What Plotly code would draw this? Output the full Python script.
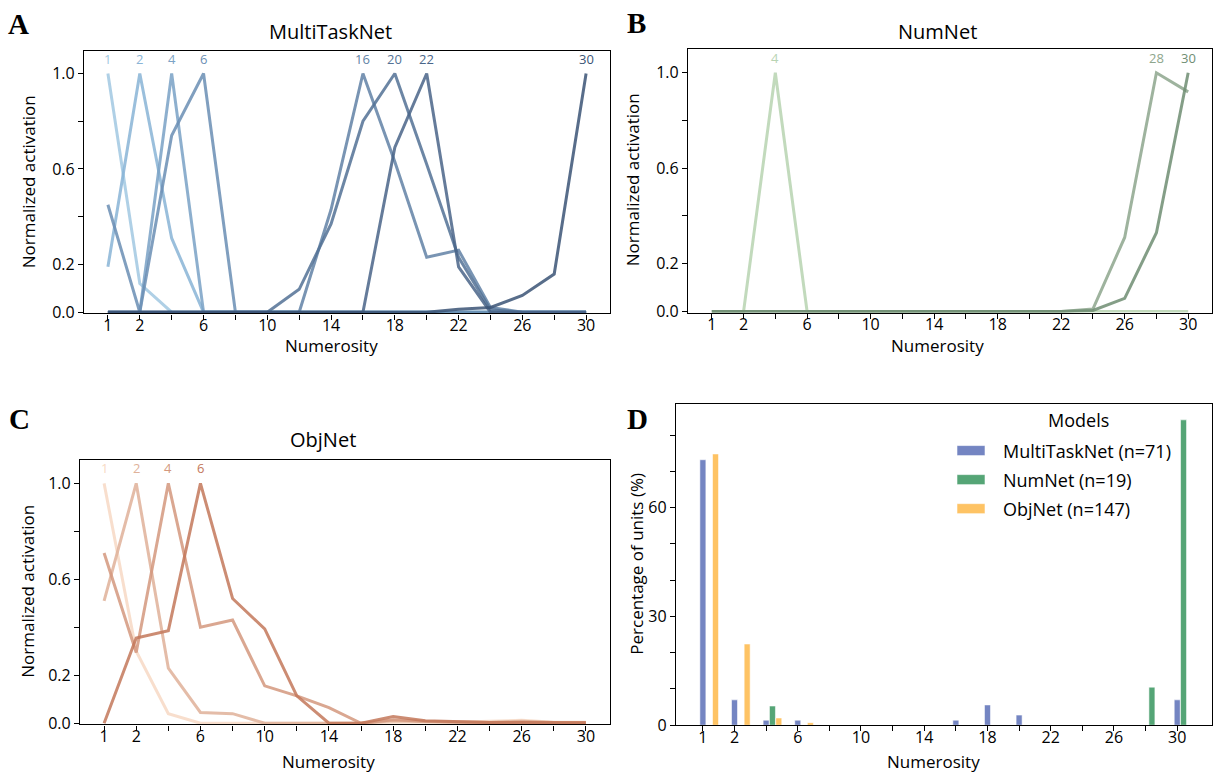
import plotly.graph_objects as go

W, H = 1214, 772
H_FIG = 784  # page height that is captured and scaled to the 772-px picture

# ---------------- data ----------------
numerosity = [1, 2, 4, 6, 8, 10, 12, 14, 16, 18, 20, 22, 24, 26, 28, 30]
labelled_ticks = [1, 2, 6, 10, 14, 18, 22, 26, 30]

# Panel A: MultiTaskNet tuning curves (normalized activation)
mt_pref = [1, 2, 4, 6, 16, 20, 22, 30]
mt_1 = [1.0, 0.12, 0, 0, 0, 0, 0, 0, 0, 0, 0, 0, 0, 0, 0, 0]
mt_2 = [0.19, 1.0, 0.31, 0, 0, 0, 0, 0, 0, 0, 0, 0, 0, 0, 0, 0]
mt_4 = [0, 0, 1.0, 0, 0, 0, 0, 0, 0, 0, 0, 0, 0, 0, 0, 0]
mt_6 = [0.45, 0, 0.74, 1.0, 0, 0, 0, 0, 0, 0, 0, 0, 0, 0, 0, 0]
mt_16 = [0, 0, 0, 0, 0, 0, 0, 0.43, 1.0, 0.63, 0.23, 0.26, 0.02, 0, 0, 0]
mt_20 = [0, 0, 0, 0, 0, 0, 0.096, 0.37, 0.80, 1.0, 0.62, 0.23, 0.01, 0, 0, 0]
mt_22 = [0, 0, 0, 0, 0, 0, 0, 0, 0, 0.69, 1.0, 0.19, 0, 0, 0, 0]
mt_30 = [0, 0, 0, 0, 0, 0, 0, 0, 0, 0, 0, 0.012, 0.02, 0.07, 0.16, 1.0]
mt_curves = [mt_1, mt_2, mt_4, mt_6, mt_16, mt_20, mt_22, mt_30]
mt_colors = ["#a3c9e2", "#8ab4d6", "#7ca3c6", "#6c8fb4", "#6283a6", "#557396",
             "#4a6689", "#3b5476"]

# Panel B: NumNet tuning curves
nn_pref = [4, 28, 30]
nn_4 = [0, 0, 1.0, 0, 0, 0, 0, 0, 0, 0, 0, 0, 0, 0, 0, 0]
nn_28 = [0, 0, 0, 0, 0, 0, 0, 0, 0, 0, 0, 0, 0.01, 0.31, 1.0, 0.92]
nn_30 = [0, 0, 0, 0, 0, 0, 0, 0, 0, 0, 0, 0, 0.004, 0.055, 0.33, 1.0]
nn_curves = [nn_4, nn_28, nn_30]
nn_colors = ["#b8d4b3", "#8ea68d", "#6f8e73"]

# Panel C: ObjNet tuning curves
on_pref = [1, 2, 4, 6]
on_1 = [1.0, 0.30, 0.04, 0.0, 0, 0, 0, 0, 0, 0.004, 0.004, 0.004, 0.008, 0.012, 0.004, 0.004]
on_2 = [0.51, 1.0, 0.23, 0.045, 0.04, 0.0, 0, 0, 0, 0.01, 0.005, 0.003, 0.003, 0.008, 0.003, 0.003]
on_4 = [0.71, 0.295, 1.0, 0.40, 0.43, 0.156, 0.114, 0.065, 0.0, 0.015, 0.008, 0.005, 0.003, 0.004, 0.002, 0.002]
on_6 = [0.0, 0.355, 0.386, 1.0, 0.52, 0.393, 0.114, 0.0, 0.0, 0.028, 0.01, 0.005, 0.003, 0.003, 0.002, 0.002]
on_curves = [on_1, on_2, on_4, on_6]
on_colors = ["#f7dac5", "#e0b29a", "#d4987e", "#c4785b"]

# Panel D: percentage of units per preferred numerosity
models = ["MultiTaskNet (n=71)", "NumNet (n=19)", "ObjNet (n=147)"]
pct_multitask = [73.2, 7.0, 1.4, 1.4, 0, 0, 0, 0, 1.4, 5.6, 2.8, 0, 0, 0, 0, 7.0]
pct_numnet = [0, 0, 5.3, 0, 0, 0, 0, 0, 0, 0, 0, 0, 0, 0, 10.5, 84.2]
pct_objnet = [74.8, 22.4, 2.0, 0.7, 0, 0, 0, 0, 0, 0, 0, 0, 0, 0, 0, 0]
bar_colors = ["#7485c2", "#55a576", "#fec364"]

cats = [str(n) for n in numerosity]
FONT = "Open Sans"


def px(x):
    return x / W


def py(y):
    return 1 - y / H


fig = go.Figure()

# ---------------- line panels ----------------
panels = [
    ("x", "y", mt_curves, mt_colors, mt_pref),
    ("x2", "y2", nn_curves, nn_colors, nn_pref),
    ("x3", "y3", on_curves, on_colors, on_pref),
]
for xa, ya, curves, colors, prefs in panels:
    for curve, col, pref in zip(curves, colors, prefs):
        fig.add_trace(go.Scatter(
            x=cats, y=curve, mode="lines", xaxis=xa, yaxis=ya,
            line=dict(color=col, width=3), opacity=0.85,
            showlegend=False, hoverinfo="skip"))
        peak = curve.index(max(curve))
        fig.add_annotation(
            x=peak, y=max(curve), xref=xa, yref=ya, text=str(pref),
            showarrow=False, yanchor="bottom", yshift=4,
            font=dict(family=FONT, size=13, color=col))

# ---------------- bar panel ----------------
bar_offsets = [-0.095, 0.105, 0.305]
for name, vals, col, off in zip(models, [pct_multitask, pct_numnet, pct_objnet],
                                bar_colors, bar_offsets):
    fig.add_trace(go.Bar(
        x=cats, y=vals, name=name, xaxis="x4", yaxis="y4",
        width=0.19, offset=off,
        marker=dict(color=col, line=dict(color="rgba(255,255,255,0.7)", width=0.8)),
        showlegend=False))

# ---------------- axes ----------------
tick_text = [str(n) if n in labelled_ticks else "" for n in numerosity]
common_x = dict(type="category", categoryorder="array", categoryarray=cats,
                tickmode="array", tickvals=cats, ticktext=tick_text,
                showline=True, mirror=True, linecolor="black", linewidth=1.3,
                ticks="outside", ticklen=5, tickwidth=1.2, tickcolor="black",
                showgrid=False, zeroline=False, ticklabelstandoff=-8,
                tickfont=dict(family=FONT, size=16, color="black"))
common_y = dict(tickmode="array", tickvals=[0, 0.2, 0.4, 0.6, 0.8, 1.0],
                ticktext=["0.0", "0.2", "", "0.6", "", "1.0"],
                showline=True, mirror=True, linecolor="black", linewidth=1.3,
                ticks="outside", ticklen=5, tickwidth=1.2, tickcolor="black",
                showgrid=False, zeroline=False,
                tickfont=dict(family=FONT, size=16, color="black"))

boxes = {
    # name: (left, right, top, bottom, xrange, yrange)
    "1": (84, 610, 51, 313, [-0.75, 15.75], [-0.005, 1.094]),
    "2": (688, 1212, 49, 312.2, [-0.75, 15.75], [-0.005, 1.0995]),
    "3": (80, 610, 459, 723.5, [-0.75, 15.75], [-0.005, 1.099]),
    "4": (676, 1212, 403, 724.3, [-0.85, 16.1], [0, 88.7]),
}
for k, (l, r, t, b, xr, yr) in boxes.items():
    xname = "xaxis" if k == "1" else "xaxis" + k
    yname = "yaxis" if k == "1" else "yaxis" + k
    anchor_x = "y" if k == "1" else "y" + k
    anchor_y = "x" if k == "1" else "x" + k
    xa = dict(common_x, domain=[px(l), px(r)], range=xr, anchor=anchor_x)
    ya = dict(common_y, domain=[py(b), py(t)], range=yr, anchor=anchor_y)
    if k == "4":
        ya.update(tickvals=[0, 10, 20, 30, 40, 50, 60, 70, 80],
                  ticktext=["0", "", "", "30", "", "", "60", "", ""])
    fig.update_layout({xname: xa, yname: ya})


# ---------------- text ----------------
def text(x, y, s, size=17, angle=0, weight="normal", family=FONT, xanchor="center"):
    fig.add_annotation(x=px(x), y=py(y), xref="paper", yref="paper", text=s,
                       showarrow=False, textangle=angle, xanchor=xanchor, yanchor="middle",
                       font=dict(family=family, size=size, color="black", weight=weight))


# panel titles
text(330, 31, "MultiTaskNet", size=20)
text(937, 31, "NumNet", size=20)
text(323, 439, "ObjNet", size=20)
# x axis titles
text(331, 345, "Numerosity")
text(937, 345, "Numerosity")
text(328, 761, "Numerosity")
text(933, 761, "Numerosity")
# y axis titles
text(28, 182, "Normalized activation", angle=-90)
text(632, 180, "Normalized activation", angle=-90)
text(28, 591, "Normalized activation", angle=-90)
text(637, 563, "Percentage of units (%)", angle=-90)
# panel letters
for lx, ly, s in [(18, 24, "A"), (636, 23, "B"), (19, 418, "C"), (637, 418, "D")]:
    text(lx, ly, s, size=29, weight="bold", family="Liberation Serif")

# legend for panel D
text(1078, 419, "Models", size=18)
for i, (name, col) in enumerate(zip(models, bar_colors)):
    yc = 450 + i * 29
    fig.add_shape(type="rect", xref="paper", yref="paper",
                  x0=px(957), x1=px(985), y0=py(yc + 5), y1=py(yc - 5),
                  fillcolor=col, line=dict(color="rgba(255,255,255,0.7)", width=0.8))
    text(1001, yc, name, size=18, xanchor="left")

fig.update_layout(
    width=W, height=H_FIG, margin=dict(l=0, r=0, t=0, b=0),
    paper_bgcolor="white", plot_bgcolor="white", barmode="overlay",
    showlegend=False, font=dict(family=FONT),
)

fig.write_html(
    "out.html",
    config={"displayModeBar": False},
    post_script="document.body.style.margin='0';"
                "document.documentElement.style.overflow='hidden';",
)
